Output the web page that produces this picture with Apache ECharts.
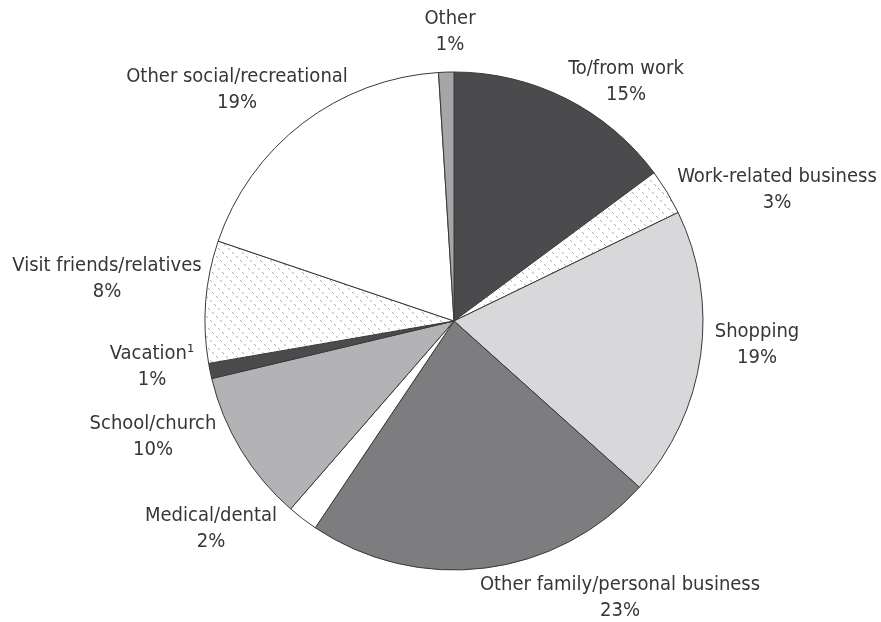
<!DOCTYPE html>
<html>
<head>
<meta charset="utf-8">
<script src="https://cdn.jsdelivr.net/npm/echarts@6/dist/echarts.min.js"></script>
<style>
  html, body { margin: 0; padding: 0; background: #fff; }
  #chart { width: 881px; height: 622px; }
</style>
</head>
<body>
<div id="chart"></div>
<script>
// Trip purposes, share of trips (%)
const categories = [
  'To/from work',
  'Work-related business',
  'Shopping',
  'Other family/personal business',
  'Medical/dental',
  'School/church',
  'Vacation\u00B9',
  'Visit friends/relatives',
  'Other social/recreational',
  'Other'
];
const shares = [15, 3, 19, 23, 2, 10, 1, 8, 19, 1];

// Fill style per slice: a grey tone or 'hatch' for the dashed diagonal pattern
const fills = ['#4b4b4d', 'hatch', '#d8d8da', '#7d7d7f', '#ffffff', '#b3b3b5', '#4b4b4d', 'hatch', '#ffffff', '#a6a6a8'];

// Where each two-line label block is centred
const labelCenters = [
  [626, 82], [777, 190], [757, 345], [620, 598], [211, 529],
  [153, 437], [152, 367], [107, 279], [237, 90], [450, 32]
];

// Dotted "\" hatching tile: diagonals 10px apart, 2px dashes with 2px gaps
function makeHatch() {
  const size = 40;
  const c = document.createElement('canvas');
  c.width = size; c.height = size;
  const g = c.getContext('2d');
  g.fillStyle = '#ffffff';
  g.fillRect(0, 0, size, size);
  g.fillStyle = '#ababab';
  for (let off = 0; off < size; off += 10) {
    for (let t = 0; t < size; t++) {
      if (t % 4 < 2) g.fillRect((t + off) % size, t, 1, 1);
    }
  }
  return c;
}
const hatch = { image: makeHatch(), repeat: 'repeat' };

const chart = echarts.init(document.getElementById('chart'), null, { renderer: 'canvas' });

chart.setOption({
  animation: false,
  backgroundColor: '#ffffff',
  series: [{
    type: 'pie',
    center: [454, 321],
    radius: 249,
    startAngle: 90,
    clockwise: true,
    avoidLabelOverlap: false,
    emphasis: { disabled: true },
    itemStyle: { borderColor: '#3a3a3a', borderWidth: 1 },
    label: {
      show: true,
      position: 'outside',
      formatter: '{b}\n{c}%',
      fontFamily: '"Liberation Sans Narrow", "DejaVu Sans Condensed", sans-serif',
      fontSize: 20,
      lineHeight: 26,
      color: '#363636',
      align: 'center'
    },
    labelLine: { show: false },
    labelLayout: function (p) {
      const pos = labelCenters[p.dataIndex];
      return { x: pos[0], y: pos[1], align: 'center', verticalAlign: 'middle' };
    },
    data: categories.map(function (name, i) {
      return {
        name: name,
        value: shares[i],
        itemStyle: { color: fills[i] === 'hatch' ? hatch : fills[i] }
      };
    })
  }]
});
</script>
</body>
</html>
